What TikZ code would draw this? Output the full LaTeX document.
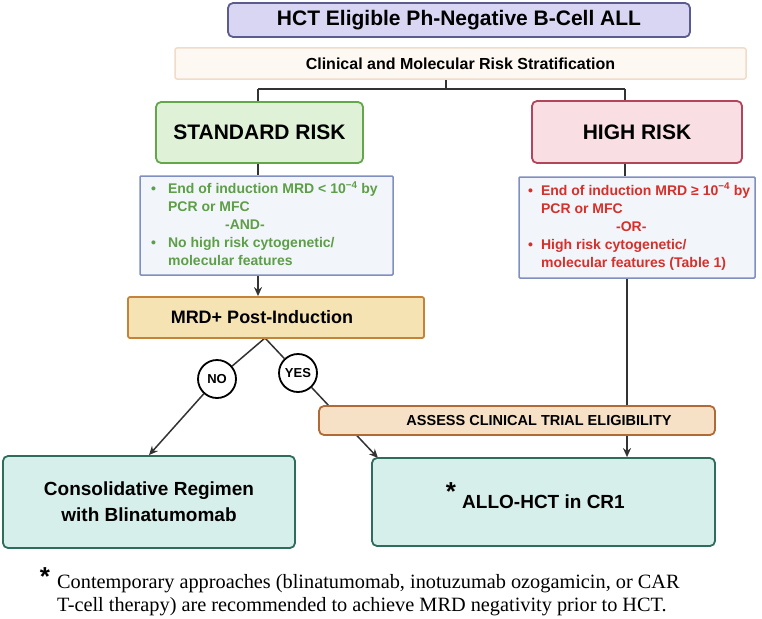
\documentclass[tikz,border=0pt]{standalone}
\usepackage{fontspec}
\setmainfont{Liberation Sans}
\newfontfamily\notefont{Liberation Serif}
\usetikzlibrary{arrows.meta,backgrounds,calc}

\definecolor{titlefill}{HTML}{D9D6F4}
\definecolor{titledraw}{HTML}{5C5B8E}
\definecolor{stratfill}{HTML}{FDF8F1}
\definecolor{stratdraw}{HTML}{F0DCC8}
\definecolor{stdfill}{HTML}{DFF2D7}
\definecolor{stddraw}{HTML}{62A84A}
\definecolor{highfill}{HTML}{F9DEE4}
\definecolor{highdraw}{HTML}{B2455C}
\definecolor{critfill}{HTML}{F2F5FA}
\definecolor{critdraw}{HTML}{7F8FC2}
\definecolor{stdtext}{HTML}{5E9E48}
\definecolor{hightext}{HTML}{D4302C}
\definecolor{mrdfill}{HTML}{F5E3B3}
\definecolor{mrddraw}{HTML}{C5833A}
\definecolor{assessfill}{HTML}{F6E0C6}
\definecolor{assessdraw}{HTML}{B06A36}
\definecolor{endfill}{HTML}{D6EFEA}
\definecolor{enddraw}{HTML}{2E6D5C}
\definecolor{linkc}{HTML}{333333}

\tikzset{
  box/.style={draw, rounded corners=5pt, line width=1.8pt, inner sep=0pt},
  link/.style={draw=linkc, line width=1.5pt},
  arrow/.style={link, -{Stealth[length=9pt,width=8pt]}},
  choice/.style={circle, draw=black, line width=1.8pt, fill=white,
    minimum size=38pt, inner sep=0pt, font=\bfseries\fontsize{13}{13}\selectfont},
  crittext/.style={anchor=west, inner sep=0pt, font=\bfseries\fontsize{14}{18}\selectfont},
  star/.style={inner sep=0pt, font=\bfseries\fontsize{26}{26}\selectfont},
}

\begin{document}
\begin{tikzpicture}[x=1pt,y=-1pt]
\useasboundingbox (0,0) rectangle (762,618);

% header boxes
\node[box, fill=titlefill, draw=titledraw, minimum width=462pt, minimum height=34pt,
  font=\bfseries\fontsize{21}{21}\selectfont] (title) at (459,20) {HCT Eligible Ph-Negative B-Cell ALL};
\node[box, fill=stratfill, draw=stratdraw, line width=1.5pt, rounded corners=2pt, minimum width=571pt, minimum height=31pt,
  font=\bfseries\fontsize{16}{16}\selectfont] (strat) at (460.5,63.5) {Clinical and Molecular Risk Stratification};

% risk groups
\node[box, fill=stdfill, draw=stddraw, minimum width=207pt, minimum height=61pt,
  font=\bfseries\fontsize{21}{21}\selectfont] (std) at (259.5,132.5) {STANDARD RISK};
\node[box, fill=highfill, draw=highdraw, minimum width=210pt, minimum height=62pt,
  font=\bfseries\fontsize{21}{21}\selectfont] (high) at (637,132) {HIGH RISK};

% criteria
\node[box, fill=critfill, draw=critdraw, line width=1.5pt, rounded corners=1pt,
  minimum width=253pt, minimum height=99pt] (stdcrit) at (266.5,225.5) {};
\node[crittext, text=stdtext] (stdtxt) at (151,226) {%
  \begin{tabular}{@{}l@{\hspace{12pt}}l@{}}
  \textbullet & End of induction MRD < 10\textsuperscript{−4} by\\
   & PCR or MFC\\
   & \hspace{57pt}-AND-\\
  \textbullet & No high risk cytogenetic/\\
   & molecular features
  \end{tabular}};
\node[box, fill=critfill, draw=critdraw, line width=1.5pt, rounded corners=1pt,
  minimum width=236pt, minimum height=101pt] (highcrit) at (637,227.5) {};
\node[crittext, text=hightext] (hightxt) at (528,227.5) {%
  \begin{tabular}{@{}l@{\hspace{8pt}}l@{}}
  \textbullet & End of induction MRD ≥ 10\textsuperscript{−4} by\\
   & PCR or MFC\\
   & \hspace{75pt}-OR-\\
  \textbullet & High risk cytogenetic/\\
   & molecular features (Table 1)
  \end{tabular}};

% MRD decision
\node[box, fill=mrdfill, draw=mrddraw, rounded corners=2pt, minimum width=296pt, minimum height=41pt] (mrd) at (276,317.5) {};
\node[inner sep=0pt, font=\bfseries\fontsize{18}{18}\selectfont] (mrdtxt) at (262,317.5) {MRD+ Post-Induction};
\node[choice] (no) at (217,379) {NO};
\node[choice] (yes) at (298,373) {YES};

\node[box, fill=assessfill, draw=assessdraw, rounded corners=5pt, minimum width=396pt, minimum height=29pt] (assess) at (517,420.5) {};
\node[inner sep=0pt, font=\bfseries\fontsize{14.5}{14.5}\selectfont] (assesstxt) at (539,421) {ASSESS CLINICAL TRIAL ELIGIBILITY};

% outcomes
\node[box, fill=endfill, draw=enddraw, minimum width=292pt, minimum height=92pt, align=center,
  font=\bfseries\fontsize{19}{26}\selectfont] (cons) at (149,502) {Consolidative Regimen\\with Blinatumomab};
\node[box, fill=endfill, draw=enddraw, minimum width=343pt, minimum height=88pt,
  font=\bfseries\fontsize{19}{19}\selectfont] (allo) at (543.5,502) {ALLO-HCT in CR1};
\node[star] (allostar) at (451,492) {*};

% footnote
\node[star] (notestar) at (45,577) {*};
\node[anchor=base west, inner sep=0pt, font=\notefont\fontsize{20.3}{20}\selectfont] (note1) at (57,588)
  {Contemporary approaches (blinatumomab, inotuzumab ozogamicin, or CAR};
\node[anchor=base west, inner sep=0pt, font=\notefont\fontsize{20.3}{20}\selectfont] (note2) at (57,611)
  {T-cell therapy) are recommended to achieve MRD negativity prior to HCT.};

% connectors
\coordinate (stem) at (446,79);
\coordinate (split) at (446,89);
\coordinate (stdtop) at (258,89);
\coordinate (hightop) at (625,89);
\coordinate (apex) at (265,338);
\coordinate (yesend) at (378,458);
\begin{scope}[on background layer]
  \draw[link] (stem) -- (split);
  \draw[link] (stdtop) -- (hightop);
  \draw[link] (stdtop) -- (stdtop |- std.north);
  \draw[link] (hightop) -- (hightop |- high.north);
  \draw[link] (stdtop |- std.south) -- (stdtop |- stdcrit.north);
  \draw[link] (hightop |- high.south) -- (hightop |- highcrit.north);
  \draw[arrow] (stdtop |- stdcrit.south) -- (stdtop |- mrd.north);
  \draw[arrow] ($(hightop |- highcrit.south)+(2,0)$) -- ($(hightop |- allo.north)+(2,0)$);
  \draw[link] (apex) -- (no);
  \draw[arrow] (no) -- (cons.north);
  \draw[link] (apex) -- (yes);
  \draw[arrow] (yes) -- (yesend);
\end{scope}
\end{tikzpicture}
\end{document}
